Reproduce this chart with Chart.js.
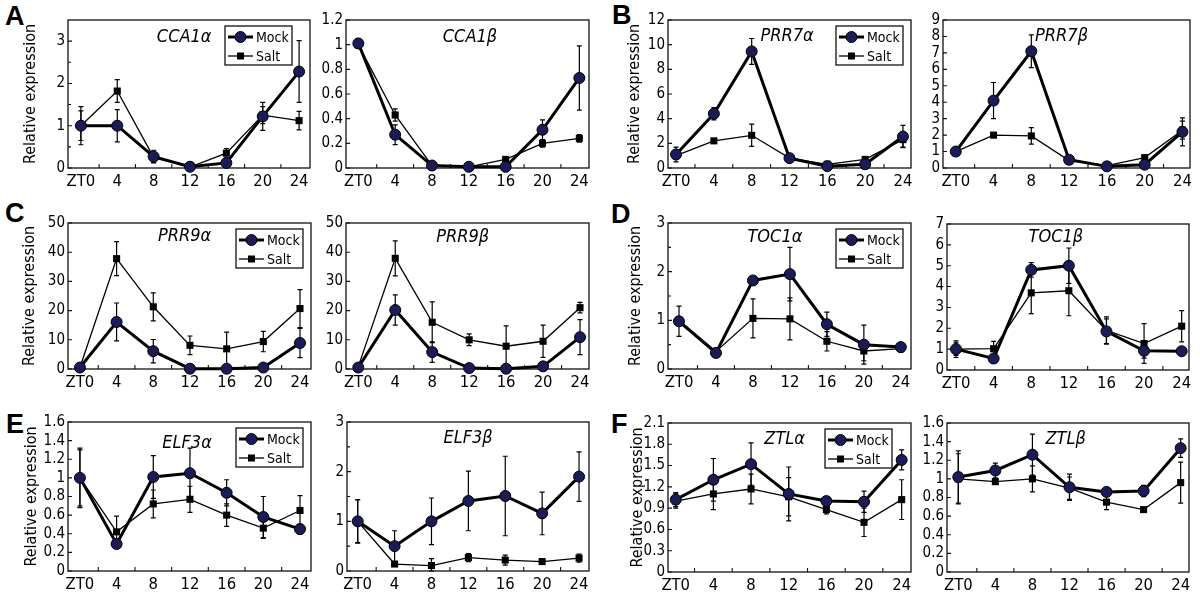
<!doctype html>
<html lang="en">

<head>
  <meta charset="utf-8">
  <title>Clock gene expression, mock vs salt</title>
  <script src="https://cdn.jsdelivr.net/npm/chart.js"></script>
  <style>
    body { margin: 0; background: #fff; width: 1200px; height: 601px; position: relative; overflow: hidden; }
    canvas { position: absolute; }
    .letter { position: absolute; font: bold 27px 'Liberation Sans', Arial, sans-serif; line-height: 27px; color: #000; }
  </style>
</head>

<body>
  <div class="letter" style="left:5px;top:3px">A</div>
  <div class="letter" style="left:612px;top:2px">B</div>
  <div class="letter" style="left:5px;top:200px">C</div>
  <div class="letter" style="left:611px;top:201px">D</div>
  <div class="letter" style="left:6px;top:411px">E</div>
  <div class="letter" style="left:611px;top:411px">F</div>

<script>
  //--------------------------------- data ---------------------------------
  const hours = [0, 4, 8, 12, 16, 20, 24]
  const xLabels = ['ZT0', '4', '8', '12', '16', '20', '24']

  // A - CCA1
  const cca1aMock = [1.0, 1.0, 0.27, 0.03, 0.12, 1.22, 2.28]
  const cca1aMockErr = [0.45, 0.38, 0.15, 0.02, 0.05, 0.33, 0.73]
  const cca1aSalt = [1.0, 1.82, 0.25, 0.02, 0.35, 1.25, 1.12]
  const cca1aSaltErr = [0.35, 0.27, 0.12, 0.02, 0.11, 0.2, 0.22]
  const cca1bMock = [1.01, 0.27, 0.02, 0.01, 0.01, 0.31, 0.73]
  const cca1bMockErr = [0.04, 0.08, 0.01, 0.005, 0.005, 0.08, 0.26]
  const cca1bSalt = [1.0, 0.43, 0.02, 0.01, 0.07, 0.2, 0.24]
  const cca1bSaltErr = [0.03, 0.05, 0.01, 0.005, 0.02, 0.03, 0.03]

  // B - PRR7
  const prr7aMock = [1.1, 4.4, 9.45, 0.8, 0.15, 0.3, 2.55]
  const prr7aMockErr = [0.6, 0.5, 1.05, 0.2, 0.1, 0.2, 0.9]
  const prr7aSalt = [1.0, 2.2, 2.65, 0.8, 0.3, 0.7, 2.3]
  const prr7aSaltErr = [0.3, 0.15, 0.9, 0.1, 0.1, 0.15, 0.6]
  const prr7bMock = [1.0, 4.1, 7.1, 0.5, 0.1, 0.2, 2.2]
  const prr7bMockErr = [0.1, 1.1, 1.0, 0.15, 0.05, 0.1, 0.85]
  const prr7bSalt = [1.0, 2.0, 1.95, 0.45, 0.15, 0.63, 2.3]
  const prr7bSaltErr = [0.05, 0.15, 0.5, 0.1, 0.05, 0.1, 0.55]

  // C - PRR9
  const prr9aMock = [0.5, 16.1, 6.1, 0.1, 0.1, 0.5, 8.9]
  const prr9aMockErr = [0.3, 6.5, 4.0, 0.2, 0.2, 0.3, 5.0]
  const prr9aSalt = [0.5, 37.8, 21.3, 8.1, 6.9, 9.4, 20.7]
  const prr9aSaltErr = [0.3, 5.8, 4.8, 3.2, 5.7, 3.5, 6.5]
  const prr9bMock = [0.5, 20.2, 5.8, 0.3, 0.1, 0.9, 10.9]
  const prr9bMockErr = [0.3, 5.2, 3.5, 0.2, 0.1, 0.3, 6.0]
  const prr9bSalt = [0.8, 37.9, 16.0, 10.0, 7.8, 9.5, 21.0]
  const prr9bSaltErr = [0.4, 6.0, 7.0, 2.0, 7.0, 5.5, 1.8]

  // D - TOC1
  const toc1aMock = [0.98, 0.33, 1.82, 1.95, 0.92, 0.5, 0.45]
  const toc1aMockErr = [0.31, 0.03, 0.04, 0.55, 0.25, 0.4, 0.05]
  const toc1aSalt = [1.0, 0.36, 1.04, 1.03, 0.57, 0.37, 0.42]
  const toc1aSaltErr = [0.05, 0.03, 0.4, 0.43, 0.2, 0.2, 0.07]
  const toc1bMock = [1.0, 0.55, 4.8, 5.0, 1.85, 0.92, 0.9]
  const toc1bMockErr = [0.3, 0.05, 0.35, 0.85, 0.6, 0.35, 0.05]
  const toc1bSalt = [1.0, 1.02, 3.7, 3.8, 1.9, 1.27, 2.1]
  const toc1bSaltErr = [0.4, 0.35, 1.0, 1.2, 0.65, 0.95, 0.75]

  // E - ELF3
  const elf3aMock = [1.0, 0.29, 1.01, 1.05, 0.84, 0.58, 0.45]
  const elf3aMockErr = [0.32, 0.03, 0.23, 0.27, 0.14, 0.22, 0.05]
  const elf3aSalt = [1.0, 0.42, 0.72, 0.77, 0.6, 0.46, 0.65]
  const elf3aSaltErr = [0.3, 0.17, 0.15, 0.14, 0.12, 0.11, 0.16]
  const elf3bMock = [1.0, 0.5, 1.0, 1.41, 1.51, 1.16, 1.9]
  const elf3bMockErr = [0.44, 0.31, 0.47, 0.6, 0.8, 0.43, 0.5]
  const elf3bSalt = [1.0, 0.14, 0.11, 0.27, 0.22, 0.19, 0.26]
  const elf3bSaltErr = [0.43, 0.02, 0.14, 0.08, 0.1, 0.03, 0.08]

  // F - ZTL
  const ztlaMock = [1.02, 1.3, 1.52, 1.1, 1.0, 0.99, 1.58]
  const ztlaMockErr = [0.1, 0.3, 0.3, 0.38, 0.03, 0.15, 0.14]
  const ztlaSalt = [1.0, 1.1, 1.17, 1.06, 0.88, 0.7, 1.02]
  const ztlaSaltErr = [0.1, 0.22, 0.21, 0.27, 0.06, 0.2, 0.28]
  const ztlbMock = [1.02, 1.09, 1.26, 0.91, 0.86, 0.87, 1.33]
  const ztlbMockErr = [0.28, 0.08, 0.22, 0.14, 0.04, 0.06, 0.1]
  const ztlbSalt = [1.0, 0.97, 1.0, 0.9, 0.75, 0.67, 0.96]
  const ztlbSaltErr = [0.27, 0.03, 0.14, 0.12, 0.08, 0.02, 0.22]

  // y tick labels
  const yTicks0to3 = [0, 1, 2, 3]
  const yTicks0to12 = [0, 0.2, 0.4, 0.6, 0.8, 1, 1.2]
  const yTicksPrr7a = [0, 2, 4, 6, 8, 10, 12]
  const yTicksPrr7b = [0, 1, 2, 3, 4, 5, 6, 7, 8, 9]
  const yTicks0to50 = [0, 10, 20, 30, 40, 50]
  const yTicks0to7 = [0, 1, 2, 3, 4, 5, 6, 7]
  const yTicks0to16 = [0, 0.2, 0.4, 0.6, 0.8, 1, 1.2, 1.4, 1.6]
  const yTicks0to21 = [0, 0.3, 0.6, 0.9, 1.2, 1.5, 1.8, 2.1]

  //--------------------------------- panels ---------------------------------
  // area = chart area [left, top, right, bottom] on the page
  const panels = [
    { gene: 'CCA1α', mock: cca1aMock, mockErr: cca1aMockErr, salt: cca1aSalt, saltErr: cca1aSaltErr,
      yTicks: yTicks0to3, yMax: 3.5, minor: 0.5, area: [68, 20, 310, 168], xr: [-1.42, 25.2],
      title: [0.48, 17], legend: 18, yTitle: 30.5 },
    { gene: 'CCA1β', mock: cca1bMock, mockErr: cca1bMockErr, salt: cca1bSalt, saltErr: cca1bSaltErr,
      yTicks: yTicks0to12, yMax: 1.2, area: [346, 20, 589, 168], xr: [-1.34, 25.05], title: [0.51, 17] },
    { gene: 'PRR7α', mock: prr7aMock, mockErr: prr7aMockErr, salt: prr7aSalt, saltErr: prr7aSaltErr,
      yTicks: yTicksPrr7a, yMax: 12, area: [668, 20, 911, 168], xr: [-0.85, 24.85],
      title: [0.49, 16], legend: 8, yTitle: 634.5 },
    { gene: 'PRR7β', mock: prr7bMock, mockErr: prr7bMockErr, salt: prr7bSalt, saltErr: prr7bSaltErr,
      yTicks: yTicksPrr7b, yMax: 9, area: [943, 20, 1190, 168], xr: [-1.35, 24.8], title: [0.48, 16] },
    { gene: 'PRR9α', mock: prr9aMock, mockErr: prr9aMockErr, salt: prr9aSalt, saltErr: prr9aSaltErr,
      yTicks: yTicks0to50, yMax: 50, area: [68, 223, 311, 369], xr: [-1.3, 25.2],
      title: [0.48, 13], legend: 8, yTitle: 29.5 },
    { gene: 'PRR9β', mock: prr9bMock, mockErr: prr9bMockErr, salt: prr9bSalt, saltErr: prr9bSaltErr,
      yTicks: yTicks0to50, yMax: 50, area: [346, 223, 589, 369], xr: [-1.33, 24.97], title: [0.48, 14] },
    { gene: 'TOC1α', mock: toc1aMock, mockErr: toc1aMockErr, salt: toc1aSalt, saltErr: toc1aSaltErr,
      yTicks: yTicks0to3, yMax: 3, minor: 0.5, area: [668, 223, 911, 369], xr: [-1.19, 25.1],
      title: [0.44, 14.5], legend: 8, yTitle: 636 },
    { gene: 'TOC1β', mock: toc1bMock, mockErr: toc1bMockErr, salt: toc1bSalt, saltErr: toc1bSaltErr,
      yTicks: yTicks0to7, yMax: 7, area: [947, 224, 1189, 370], xr: [-0.96, 24.78], title: [0.45, 13.5] },
    { gene: 'ELF3α', mock: elf3aMock, mockErr: elf3aMockErr, salt: elf3aSalt, saltErr: elf3aSaltErr,
      yTicks: yTicks0to16, yMax: 1.6, area: [68, 422, 311, 571], xr: [-1.3, 25.2],
      title: [0.49, 21], legend: 8, yTitle: 32 },
    { gene: 'ELF3β', mock: elf3bMock, mockErr: elf3bMockErr, salt: elf3bSalt, saltErr: elf3bSaltErr,
      yTicks: yTicks0to3, yMax: 3, minor: 0.5, area: [347, 422, 589, 571], xr: [-1.16, 25.08], title: [0.5, 16] },
    { gene: 'ZTLα', mock: ztlaMock, mockErr: ztlaMockErr, salt: ztlaSalt, saltErr: ztlaSaltErr,
      yTicks: yTicks0to21, yMax: 2.1, area: [668, 423, 911, 572], xr: [-0.82, 24.99],
      title: [0.48, 16], legend: 19, yTitle: 638 },
    { gene: 'ZTLβ', mock: ztlbMock, mockErr: ztlbMockErr, salt: ztlbSalt, saltErr: ztlbSaltErr,
      yTicks: yTicks0to16, yMax: 1.6, area: [947, 423, 1189, 572], xr: [-1.22, 24.9], title: [0.49, 16] },
  ]

  //--------------------------------- drawing ---------------------------------
  const FONT = "'DejaVu Sans Condensed', 'Liberation Sans', sans-serif"
  const MOCK_FILL = '#1b1b58'
  const LEFT_W = 66, PAD_T = 14, PAD_R = 10, BOTTOM_H = 30

  const drawCircle = (ctx, x, y) => {
    ctx.beginPath()
    ctx.arc(x, y, 5.5, 0, Math.PI * 2)
    ctx.fillStyle = MOCK_FILL
    ctx.fill()
    ctx.lineWidth = 1
    ctx.strokeStyle = '#000'
    ctx.stroke()
  }

  const panelPlugin = (p) => ({
    id: 'panel',
    beforeDatasetsDraw(chart) {
      const { ctx, chartArea: a, scales: { x, y } } = chart
      ctx.save()
      ctx.strokeStyle = '#111'
      ctx.lineWidth = 1.3
      ctx.strokeRect(a.left, a.top, a.right - a.left, a.bottom - a.top)

      // inward tick marks
      ctx.beginPath()
      for (let i = 0; i < hours.length - 1; i++) {
        const px = x.getPixelForValue((hours[i] + hours[i + 1]) / 2)
        ctx.moveTo(px, a.bottom)
        ctx.lineTo(px, a.bottom - 4)
      }
      p.yTicks.forEach(v => {
        const py = y.getPixelForValue(v)
        ctx.moveTo(a.left, py)
        ctx.lineTo(a.left + 4, py)
      })
      if (p.minor) {
        for (let v = p.minor; v < p.yMax - 1e-6; v += p.minor * 2) {
          const py = y.getPixelForValue(v)
          ctx.moveTo(a.left, py)
          ctx.lineTo(a.left + 3, py)
        }
      }
      ctx.lineWidth = 1.1
      ctx.stroke()

      // error bars
      ctx.strokeStyle = '#000'
      ctx.lineWidth = 1.2
      chart.data.datasets.forEach(ds => {
        ds.data.forEach((pt, i) => {
          const e = ds.errors[i]
          const px = x.getPixelForValue(pt.x)
          const hi = y.getPixelForValue(pt.y + e)
          const lo = y.getPixelForValue(Math.max(pt.y - e, 0))
          ctx.beginPath()
          ctx.moveTo(px, hi); ctx.lineTo(px, lo)
          ctx.moveTo(px - 2.5, hi); ctx.lineTo(px + 2.5, hi)
          ctx.moveTo(px - 2.5, lo); ctx.lineTo(px + 2.5, lo)
          ctx.stroke()
        })
      })
      ctx.restore()
    },
    afterDatasetsDraw(chart) {
      const { ctx, chartArea: a } = chart
      ctx.save()
      // gene name
      ctx.fillStyle = '#000'
      ctx.font = `italic 18px ${FONT}`
      ctx.textAlign = 'center'
      ctx.textBaseline = 'middle'
      ctx.fillText(p.gene, a.left + p.title[0] * (a.right - a.left), a.top + p.title[1])

      // legend box
      if (p.legend) {
        const w = 67, h = 39
        const left = a.right - p.legend - w, top = a.top + 6
        ctx.fillStyle = '#fff'
        ctx.fillRect(left, top, w, h)
        ctx.strokeStyle = '#111'
        ctx.lineWidth = 1.3
        ctx.strokeRect(left, top, w, h)
        const rows = [['Mock', 3, 11], ['Salt', 1.3, 30]]
        rows.forEach(([label, lw, dy]) => {
          const cy = top + dy
          ctx.beginPath()
          ctx.moveTo(left + 3, cy)
          ctx.lineTo(left + 28, cy)
          ctx.lineWidth = lw
          ctx.strokeStyle = '#000'
          ctx.stroke()
          if (label === 'Mock') drawCircle(ctx, left + 15.5, cy)
          else { ctx.fillStyle = '#000'; ctx.fillRect(left + 12, cy - 3.5, 7, 7) }
          ctx.fillStyle = '#000'
          ctx.font = `14px ${FONT}`
          ctx.textAlign = 'left'
          ctx.textBaseline = 'middle'
          ctx.fillText(label, left + 31, cy + 1)
        })
      }
      ctx.restore()
    }
  })

  panels.forEach(p => {
    const [l, t, r, b] = p.area
    const canvas = document.createElement('canvas')
    const cLeft = l - LEFT_W, cTop = t - PAD_T
    canvas.width = LEFT_W + (r - l) + PAD_R
    canvas.height = PAD_T + (b - t) + BOTTOM_H
    canvas.style.left = cLeft + 'px'
    canvas.style.top = cTop + 'px'
    document.body.appendChild(canvas)

    const toPoints = arr => hours.map((h, i) => ({ x: h, y: arr[i] }))

    new Chart(canvas, {
      type: 'line',
      data: {
        datasets: [{
          label: 'Salt',
          data: toPoints(p.salt),
          errors: p.saltErr,
          borderColor: '#000',
          borderWidth: 1.3,
          pointStyle: 'rect',
          pointRadius: 5,
          pointBackgroundColor: '#000',
          pointBorderWidth: 0,
          clip: false,
          order: 2
        }, {
          label: 'Mock',
          data: toPoints(p.mock),
          errors: p.mockErr,
          borderColor: '#000',
          borderWidth: 3,
          pointStyle: 'circle',
          pointRadius: 5.5,
          pointBackgroundColor: MOCK_FILL,
          pointBorderColor: '#000',
          pointBorderWidth: 1,
          clip: false,
          order: 1
        }]
      },
      options: {
        responsive: false,
        animation: false,
        events: [],
        layout: { padding: { top: PAD_T, right: PAD_R, left: 0, bottom: 0 } },
        plugins: { legend: { display: false }, tooltip: { enabled: false } },
        scales: {
          x: {
            type: 'linear',
            min: p.xr[0],
            max: p.xr[1],
            afterBuildTicks: s => { s.ticks = hours.map(v => ({ value: v })) },
            afterFit: s => { s.height = BOTTOM_H },
            grid: { display: false, drawTicks: false },
            border: { display: false },
            ticks: {
              callback: (v, i) => xLabels[i],
              autoSkip: false,
              maxRotation: 0,
              padding: 4,
              color: '#000',
              font: { family: FONT, size: 16.5 }
            }
          },
          y: {
            min: 0,
            max: p.yMax,
            afterBuildTicks: s => { s.ticks = p.yTicks.map(v => ({ value: v })) },
            afterFit: s => { s.width = LEFT_W },
            grid: { display: false, drawTicks: false },
            border: { display: false },
            ticks: {
              callback: v => String(+v.toFixed(2)),
              autoSkip: false,
              padding: 3,
              color: '#000',
              font: { family: FONT, size: 15 }
            },
            title: {
              display: !!p.yTitle,
              text: 'Relative expression',
              color: '#000',
              font: { family: FONT, size: 16 },
              padding: { top: p.yTitle ? p.yTitle - cLeft - 9.6 : 0, bottom: 0 }
            }
          }
        }
      },
      plugins: [panelPlugin(p)]
    })
  })
</script>
</body>

</html>
